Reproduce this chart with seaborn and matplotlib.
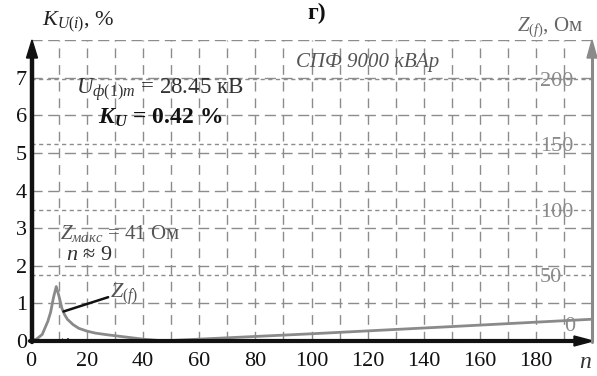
import numpy as np
import pandas as pd
import matplotlib
matplotlib.use("Agg")
import matplotlib.pyplot as plt
import seaborn as sns

# ---- data ----
z_n = [0, 2, 4, 6, 7, 8, 9, 10, 11, 12, 13, 15, 17, 20, 23, 27, 30, 35, 40, 45, 48, 100, 150, 200]
z_ohm = [0, 1.5, 5, 15, 22, 33, 41.5, 34, 25, 20, 16.5, 12.5, 9.7, 7.5, 6, 4.8, 4, 2.7, 1.4, 0.5, 0.2, 5.5, 11, 16.6]
harm_n = [11, 13, 23, 25, 35, 37, 47, 49, 59, 61, 71, 73, 83, 85, 95, 97,
          107, 109, 119, 121, 131, 133, 143, 145, 155, 157, 167, 169, 179, 181, 191, 193]
harm_k = [0.10, 0.10, 0.02, 0.02, 0.08, 0.03, 0.02, 0.02, 0.05, 0.03, 0.02, 0.02, 0.06, 0.03, 0.02, 0.07,
          0.05, 0.07, 0.07, 0.03, 0.07, 0.05, 0.03, 0.06, 0.07, 0.07, 0.05, 0.05, 0.02, 0.07, 0.02, 0.02]
x_ticks = [0, 20, 40, 60, 80, 100, 120, 140, 160, 180]
k_ticks = [0, 1, 2, 3, 4, 5, 6, 7]
z_ticks = [50, 100, 150, 200]

sns.set_theme(style="white")
plt.rcParams['font.family'] = ['Liberation Serif', 'DejaVu Serif']
plt.rcParams['mathtext.fontset'] = 'custom'
plt.rcParams['mathtext.rm'] = 'Liberation Serif'
plt.rcParams['mathtext.it'] = 'Liberation Serif:italic'
plt.rcParams['mathtext.bf'] = 'Liberation Serif:bold:italic'

W, H = 597, 376
fig = plt.figure(figsize=(W / 100, H / 100), dpi=100)
L, R, B, T = 31, 592, 341, 40
ax = fig.add_axes([L / W, 1 - B / H, (R - L) / W, (B - T) / H])
ax2 = ax.twinx()

XMAX, KMAX, ZMAX = 200, 8, 229.5
ax.set_xlim(0, XMAX)
ax.set_ylim(0, KMAX)
ax2.set_ylim(0, ZMAX)

grid_c = '#8c8c8c'
for xv in range(10, 200, 10):
    ax.axvline(xv, color=grid_c, lw=1.0, ls=(0, (7, 5)), zorder=1)
for yv in range(1, 9):
    ax.axhline(yv, color=grid_c, lw=1.0, ls=(0, (8, 4)), zorder=1)
for zv in z_ticks:
    ax2.axhline(zv, color=grid_c, lw=1.0, ls=(0, (3, 2.5)), zorder=1)

# harmonic bars
ax.bar(harm_n, harm_k, width=0.9, color='black', zorder=3)

# impedance curve
df = pd.DataFrame({'n': z_n, 'Z': z_ohm})
sns.lineplot(data=df, x='n', y='Z', ax=ax2, color='#8a8a8a', lw=2.0, zorder=4)
ax2.set_xlabel('')
ax2.set_ylabel('')

for s in ax.spines.values():
    s.set_visible(False)
for s in ax2.spines.values():
    s.set_visible(False)

ax.set_xticks(x_ticks)
ax.set_xticklabels([str(v) for v in x_ticks], fontsize=16)
ax.set_yticks(k_ticks)
ax.set_yticklabels([str(v) for v in k_ticks], fontsize=16)
ax.tick_params(axis='both', length=0, pad=3, colors='#111111')
ax.tick_params(axis='x', pad=8)
ax2.set_yticks(z_ticks)
ax2.set_yticklabels([str(v) for v in z_ticks], fontsize=16, color='#8a8a8a')
ax2.tick_params(axis='y', length=0, pad=-37.5, colors='#8a8a8a')
ax2.text(192, 11.2, '0', fontsize=16, color='#8a8a8a', ha='center', va='center', zorder=5)

def fx(px):
    return px / W
def fy(py):
    return 1 - py / H

fig.add_artist(plt.Line2D([fx(32), fx(32)], [fy(342), fy(52)], color='#111111', lw=3.2))
fig.add_artist(matplotlib.patches.FancyArrow(fx(32), fy(58), 0, fy(40) - fy(58), width=0,
               head_width=11 / W, head_length=(fy(40) - fy(58)), length_includes_head=True,
               color='#111111'))
fig.add_artist(plt.Line2D([fx(30), fx(580)], [fy(341), fy(341)], color='#111111', lw=3.0))
fig.add_artist(matplotlib.patches.FancyArrow(fx(574), fy(341), fx(593) - fx(574), 0, width=0,
               head_width=10 / H, head_length=fx(593) - fx(574), length_includes_head=True,
               color='#111111'))
fig.add_artist(plt.Line2D([fx(592), fx(592)], [fy(342), fy(52)], color='#8a8a8a', lw=2.2))
fig.add_artist(matplotlib.patches.FancyArrow(fx(592), fy(58), 0, fy(40) - fy(58), width=0,
               head_width=10 / W, head_length=(fy(40) - fy(58)), length_includes_head=True,
               color='#8a8a8a'))

# annotation line for Z(f)
ax2.plot([11.6, 27.5], [22.5, 33.4], color='#111111', lw=1.8, zorder=5)

# texts
fig.text(fx(317), fy(13), 'г)', fontsize=17, weight='bold', ha='center', va='center', color='#111111')
fig.text(fx(42), fy(22), r'$K_{U(i)}$, %', fontsize=16, ha='left', va='center', color='#222222')
fig.text(fx(583), fy(27), r'$Z_{(f)}$, Ом', fontsize=15, ha='right', va='center', color='#666666')
fig.text(fx(368), fy(62), 'СПФ 9000 кВАр', fontsize=15, style='italic', ha='center', va='center', color='#555555')
fig.text(fx(160), fy(90), r'$U_{ф(1)m}$ = 28.45 кВ', fontsize=16.5, ha='center', va='center', color='#333333')
fig.text(fx(160), fy(118), r'$\mathbf{K_U}$ = 0.42 %', fontsize=17, weight='bold', ha='center', va='center', color='#111111')
fig.text(fx(60), fy(233), r'$Z_{макс}$ = 41 Ом', fontsize=15, ha='left', va='center', color='#555555')
fig.text(fx(66), fy(255), r'$n$ ≈ 9', fontsize=16, ha='left', va='center', color='#333333')
fig.text(fx(110), fy(294), r'$Z_{(f)}$', fontsize=16, ha='left', va='center', color='#555555')
fig.text(fx(585), fy(362), r'$n$', fontsize=17, ha='center', va='center', color='#333333')

fig.savefig('out.png', dpi=100)
